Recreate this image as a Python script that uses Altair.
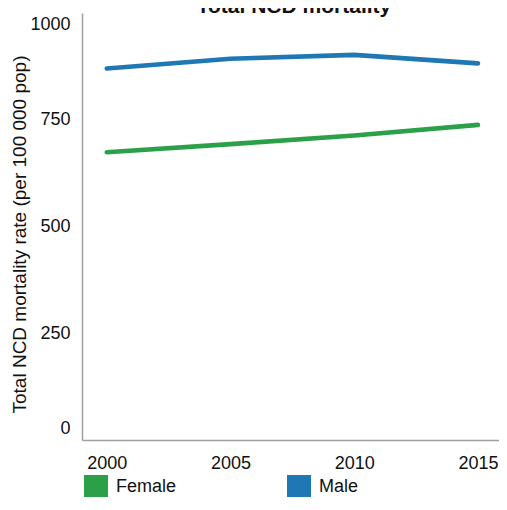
import altair as alt
import pandas as pd

years = [2000, 2005, 2010, 2015]
female = [674, 693, 713, 738]
male = [870, 893, 902, 882]
series = ["Female", "Male"]
colors = ["#2ca048", "#1f77b4"]
y_ticks = [0, 250, 500, 750, 1000]
x_ticks = [2000, 2005, 2010, 2015]
title_text = ["Total NCD mortality"]

rows = []
for name, vals in zip(series, [female, male]):
    for yr, v in zip(years, vals):
        rows.append({"year": yr, "value": v, "sex": name})
df = pd.DataFrame(rows)

FONT = "Liberation Sans"
TXT = "#111111"
AX = "#a0a0a0"

lines = alt.Chart(df).mark_line(
    strokeWidth=4.6, strokeCap="round", strokeJoin="round"
).encode(
    x=alt.X(
        "year:Q",
        scale=alt.Scale(domain=[1999, 2015.85], nice=False, zero=False),
        axis=alt.Axis(
            values=x_ticks, format="d", title=None, grid=False, ticks=False,
            tickSize=0, labelPadding=14, labelFontSize=18, labelFont=FONT,
            labelColor=TXT, domainColor=AX, domainWidth=1.5,
            labelFlush=False, labelOverlap=False,
        ),
    ),
    y=alt.Y(
        "value:Q",
        scale=alt.Scale(domain=[0, 1000], nice=False),
        axis=alt.Axis(
            values=y_ticks, format="d",
            title="Total NCD mortality rate (per 100 000 pop)",
            grid=False, ticks=False, tickSize=0, labelPadding=12,
            labelFontSize=18, labelFont=FONT, labelColor=TXT,
            labelFlush=True, labelFlushOffset=-2.3, labelOverlap=False,
            domainColor=AX, domainWidth=1.5,
            titleFont=FONT, titleFontSize=19, titleFontWeight="normal",
            titleColor=TXT, titleAngle=270, titleX=-56.6, titleY=221,
            titleBaseline="alphabetic", titleAlign="center",
        ),
    ),
    color=alt.Color(
        "sex:N",
        scale=alt.Scale(domain=series, range=colors),
        legend=alt.Legend(
            orient="none", legendX=2, legendY=462, direction="horizontal",
            title=None, symbolType="square", symbolSize=144,
            symbolStrokeWidth=12, symbolOpacity=1,
            labelFontSize=18, labelFont=FONT, labelColor=TXT,
            labelOffset=8, columnPadding=92, padding=0,
        ),
    ),
)

title = alt.Chart(pd.DataFrame({"t": title_text})).mark_text(
    font=FONT, fontSize=21, fontWeight="bold", color=TXT,
    align="center", baseline="alphabetic",
).encode(
    text="t:N",
    x=alt.value(212),
    y=alt.value(-0.5),
)

chart = alt.layer(lines, title).properties(
    width=417,
    height=427,
    padding={"left": 74, "top": 5, "right": 0, "bottom": 57},
    autosize=alt.AutoSizeParams(type="none"),
).configure_view(stroke=None)

chart.save("out.html", embed_options={"renderer": "svg", "actions": False})
